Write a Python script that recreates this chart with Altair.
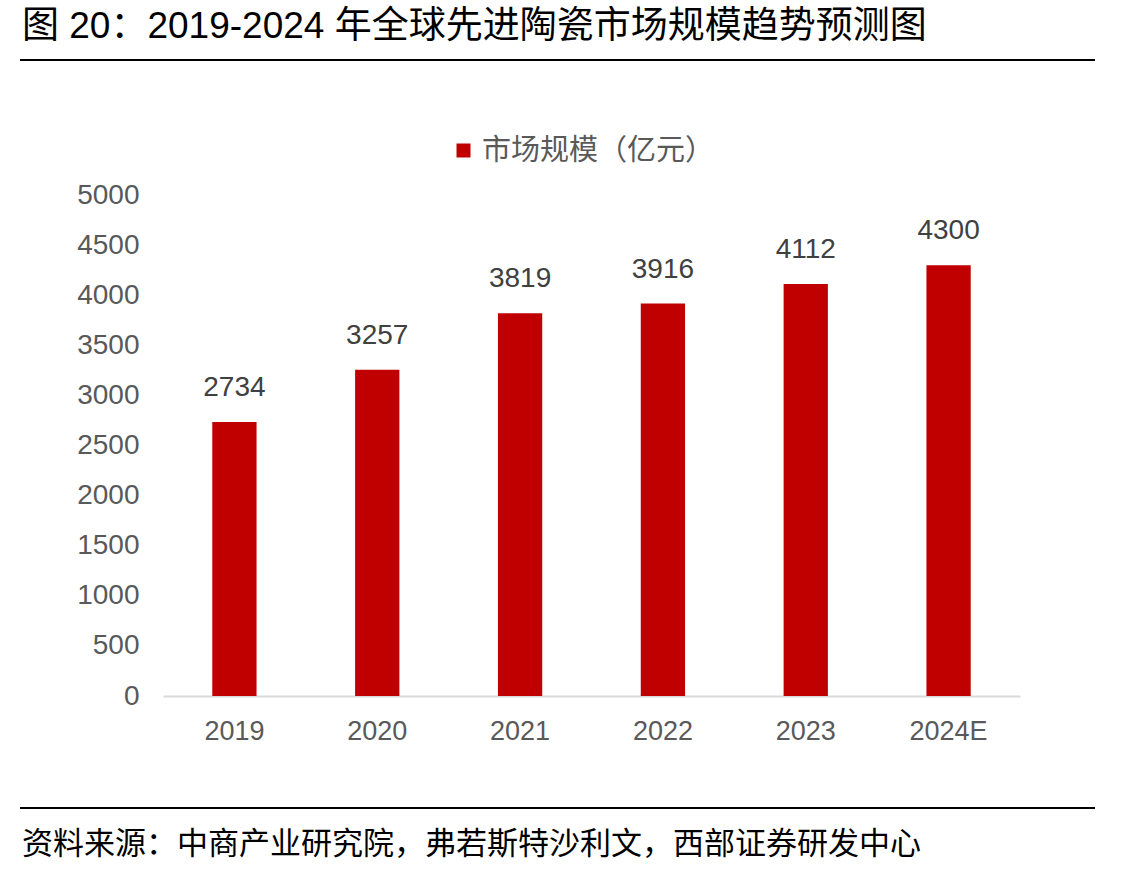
import altair as alt
import pandas as pd

# Global advanced ceramics market size (100 million CNY)
years = ["2019", "2020", "2021", "2022", "2023", "2024E"]
market_size = [2734, 3257, 3819, 3916, 4112, 4300]
series_name = "市场规模（亿元）"
y_ticks = [0, 500, 1000, 1500, 2000, 2500, 3000, 3500, 4000, 4500, 5000]

title_text = "图 20：2019-2024 年全球先进陶瓷市场规模趋势预测图"
source_text = "资料来源：中商产业研究院，弗若斯特沙利文，西部证券研发中心"

FONT = "Liberation Sans, Noto Sans CJK SC"
RED = "#C00000"
W, H = 857, 501          # plot area
PAD_L, PAD_T = 163, 195  # offset of plot area inside the page

df = pd.DataFrame({"year": years, "value": market_size, "series": [series_name] * len(years)})
one = pd.DataFrame({"k": [0]})

x_enc = alt.X(
    "year:N",
    sort=years,
    scale=alt.Scale(paddingInner=0.69, paddingOuter=0.345),
    axis=alt.Axis(
        title=None, labelAngle=0, ticks=False,
        domainColor="#D9D9D9", domainWidth=2,
        labelFont=FONT, labelFontSize=27, labelColor="#595959", labelPadding=22,
    ),
)
y_enc = alt.Y(
    "value:Q",
    scale=alt.Scale(domain=[0, 5000], nice=False),
    axis=alt.Axis(
        title=None, values=y_ticks, format="d", domain=False, ticks=False, grid=False,
        labelFont=FONT, labelFontSize=28, labelColor="#595959", labelPadding=24,
    ),
)

bars = alt.Chart(df).mark_bar().encode(
    x=x_enc,
    y=y_enc,
    color=alt.Color(
        "series:N",
        scale=alt.Scale(range=[RED]),
        legend=alt.Legend(
            orient="none", legendX=286, legendY=-59, title=None,
            symbolType="square", symbolSize=196, symbolStrokeWidth=0,
            labelFont=FONT, labelFontSize=29, labelColor="#595959",
            labelOffset=4, labelLimit=0,
        ),
    ),
)

values = alt.Chart(df).mark_text(
    baseline="bottom", dy=-20, font=FONT, fontSize=28, color="#404040"
).encode(x=alt.X("year:N", sort=years), y="value:Q", text="value:Q")

title = alt.Chart(one).mark_text(
    text=title_text, align="left", baseline="middle", font=FONT, fontSize=37, color="#000000"
).encode(x=alt.value(22 - PAD_L), y=alt.value(27 - PAD_T))

source = alt.Chart(one).mark_text(
    text=source_text, align="left", baseline="middle", font=FONT, fontSize=31, color="#000000"
).encode(x=alt.value(22 - PAD_L), y=alt.value(845 - PAD_T))

top_rule = alt.Chart(one).mark_rule(color="#000000", strokeWidth=2).encode(
    x=alt.value(20 - PAD_L), x2=alt.value(1095 - PAD_L), y=alt.value(60 - PAD_T)
)
bottom_rule = alt.Chart(one).mark_rule(color="#000000", strokeWidth=2).encode(
    x=alt.value(20 - PAD_L), x2=alt.value(1095 - PAD_L), y=alt.value(808 - PAD_T)
)

chart = (
    alt.layer(bars, values, title, source, top_rule, bottom_rule)
    .properties(
        width=W, height=H,
        autosize=alt.AutoSizeParams(type="none"),
        padding={"left": PAD_L, "top": PAD_T, "right": 1144 - PAD_L - W, "bottom": 875 - PAD_T - H},
        background="white",
    )
    .configure_view(stroke=None)
)

chart.save("out.html", embed_options={"renderer": "svg", "actions": False})
